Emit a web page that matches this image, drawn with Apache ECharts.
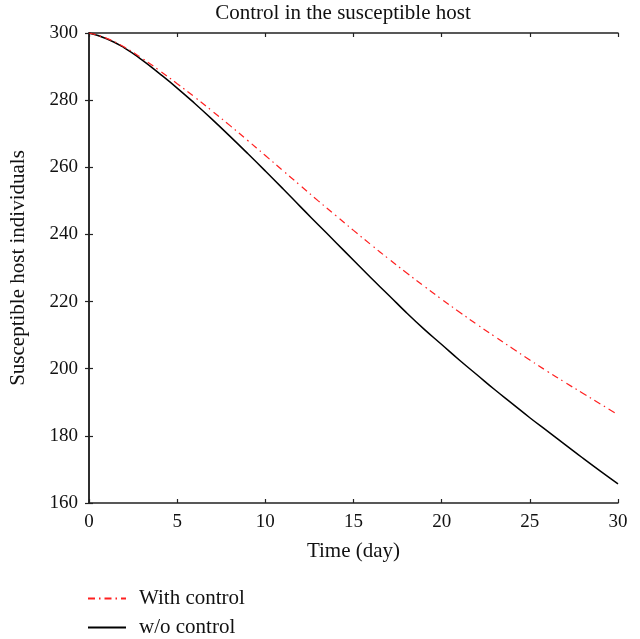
<!DOCTYPE html>
<html>
<head>
<meta charset="utf-8">
<script src="https://cdn.jsdelivr.net/npm/echarts@6/dist/echarts.min.js"></script>
<style>
  html, body { margin: 0; padding: 0; background: #fff; }
  #chart { width: 640px; height: 639px; }
</style>
</head>
<body>
<div id="chart"></div>
<script>
// Time in days
const days = [0,1,2,3,4,5,6,7,8,9,10,11,12,13,14,15,16,17,18,19,20,21,22,23,24,25,26,27,28,29,30];

// Susceptible host individuals with control
const withControl = [300,298.4,295.8,292.5,288.8,284.9,280.9,276.7,272.4,268.0,263.5,259.0,254.5,250.0,245.6,241.2,236.9,232.7,228.6,224.6,220.7,216.9,213.2,209.6,206.1,202.6,199.2,195.9,192.7,189.5,186.3];

// Susceptible host individuals without control
const withoutControl = [300,298.3,295.6,292.0,287.9,283.6,279.0,274.2,269.2,264.1,258.9,253.6,248.2,242.9,237.6,232.3,227.0,221.9,216.7,211.8,207.2,202.6,198.2,193.8,189.6,185.4,181.4,177.4,173.4,169.5,165.7];

const xTicks = [0,5,10,15,20,25,30];
const yTicks = [160,180,200,220,240,260,280,300];

const FONT = 'Liberation Serif';
const TEXT = '#111';
const pair = (xs, ys) => xs.map((x, i) => [x, ys[i]]);

const chart = echarts.init(document.getElementById('chart'), null, { renderer: 'canvas' });

const axisLine = { show: true, lineStyle: { color: '#222', width: 1.5 } };
const tickIn = { show: true, inside: true, length: 4, lineStyle: { color: '#222', width: 1.2 } };

chart.setOption({
  animation: false,
  textStyle: { fontFamily: FONT },
  title: {
    text: 'Control in the susceptible host',
    left: 338, top: -2, textAlign: 'center',
    textStyle: { fontFamily: FONT, fontSize: 21, fontWeight: 'normal', color: TEXT }
  },
  grid: { left: 87, right: 22, top: 33, bottom: 136, containLabel: false },
  legend: {
    orient: 'vertical', left: 87, top: 588, padding: 0,
    itemWidth: 38, itemHeight: 12, itemGap: 8,
    itemStyle: { opacity: 0 },
    textStyle: { fontFamily: FONT, fontSize: 21, lineHeight: 21, color: TEXT, padding: [0, 0, 0, 8] },
    data: [{ name: 'With control' }, { name: 'w/o control' }]
  },
  xAxis: [
    {
      type: 'value', min: 0, max: 30, interval: 5, position: 'bottom',
      name: 'Time (day)', nameLocation: 'middle', nameGap: 38,
      nameTextStyle: { fontFamily: FONT, fontSize: 21, color: TEXT },
      axisLine, axisTick: tickIn,
      axisLabel: { fontFamily: FONT, fontSize: 19, color: TEXT, margin: 10,
        formatter: v => xTicks.includes(v) ? String(v) : '' },
      splitLine: { show: false }
    },
    {
      type: 'value', min: 0, max: 30, interval: 5, position: 'top',
      axisLine, axisTick: tickIn, axisLabel: { show: false }, splitLine: { show: false }
    }
  ],
  yAxis: [
    {
      type: 'value', min: 160, max: 300, interval: 20, position: 'left',
      name: 'Susceptible host individuals', nameLocation: 'middle', nameGap: 60, nameRotate: 90,
      nameTextStyle: { fontFamily: FONT, fontSize: 21, color: TEXT },
      axisLine, axisTick: tickIn,
      axisLabel: { fontFamily: FONT, fontSize: 19, color: TEXT, margin: 11,
        formatter: v => yTicks.includes(v) ? String(v) : '' },
      splitLine: { show: false }
    },
    {
      type: 'value', min: 160, max: 300, interval: 20, position: 'right',
      axisLine, axisTick: tickIn, axisLabel: { show: false }, splitLine: { show: false }
    }
  ],
  series: [
    {
      name: 'With control', type: 'line', smooth: true, showSymbol: false, symbol: 'none',
      data: pair(days, withControl), z: 3,
      itemStyle: { color: '#ff2020' },
      lineStyle: { color: '#ff2020', width: 1.2, type: [7, 4, 1.5, 4] }
    },
    {
      name: 'w/o control', type: 'line', smooth: true, showSymbol: false, symbol: 'none',
      data: pair(days, withoutControl), z: 2,
      itemStyle: { color: '#000' },
      lineStyle: { color: '#000', width: 1.5 }
    }
  ]
});
</script>
</body>
</html>
